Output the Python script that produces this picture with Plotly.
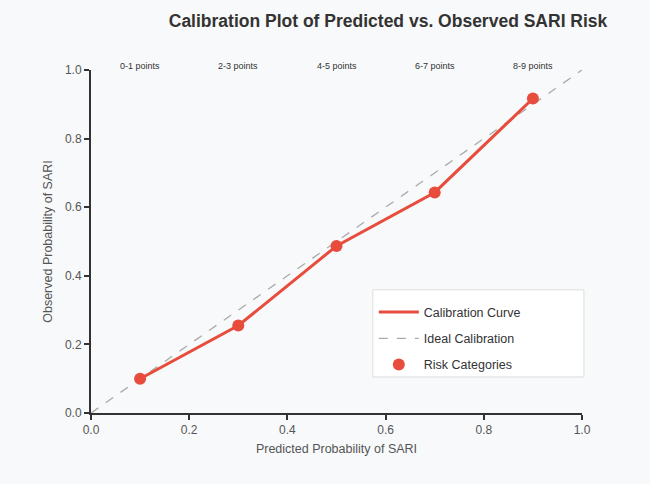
import plotly.graph_objects as go

predicted = [0.1, 0.3, 0.5, 0.7, 0.9]
observed = [0.10, 0.255, 0.487, 0.643, 0.917]
categories = ["0-1 points", "2-3 points", "4-5 points", "6-7 points", "8-9 points"]
ideal_x = [0.0, 1.0]
ideal_y = [0.0, 1.0]

RED = "#e74c3c"
BG = "#f8f9fa"
FONT = "Liberation Sans, Arial, sans-serif"

fig = go.Figure()
fig.add_trace(go.Scatter(x=ideal_x, y=ideal_y, mode="lines", name="Ideal Calibration",
                         legendgroup="b", legendrank=2,
                         line=dict(color="#aaaaaa", width=1.3, dash="dash")))
fig.add_trace(go.Scatter(x=predicted, y=observed, mode="lines", name="Calibration Curve",
                         legendgroup="a", legendrank=1,
                         line=dict(color=RED, width=3)))
fig.add_trace(go.Scatter(x=predicted, y=observed, mode="markers", name="Risk Categories",
                         legendgroup="c", legendrank=3,
                         marker=dict(color=RED, size=12)))

for x, t in zip(predicted, categories):
    fig.add_annotation(x=x, y=1.012, xref="x", yref="paper", text=t, showarrow=False,
                       yanchor="middle", font=dict(size=9, color="#333333", family=FONT))

# legend frame (wider than plotly's auto-sized legend box)
fig.add_shape(type="rect", xref="paper", yref="paper", x0=0.574, x1=1.004, y0=0.105, y1=0.359,
              fillcolor="white", line=dict(color="#dddddd", width=1), layer="below")

axis_common = dict(range=[0, 1], dtick=0.2, tickformat=".1f", showgrid=False, zeroline=False,
                   showline=True, linecolor="#333333", linewidth=2, ticks="outside",
                   ticklen=5, tickwidth=2, tickcolor="#333333",
                   tickfont=dict(size=12, color="#555555", family=FONT))

fig.update_layout(
    width=650, height=484,
    paper_bgcolor=BG, plot_bgcolor=BG,
    margin=dict(l=91, r=68, t=70, b=71),
    font=dict(family=FONT, color="#555555"),
    title=dict(text="<b>Calibration Plot of Predicted vs. Observed SARI Risk</b>",
               x=0.597, xanchor="center", y=0.957, yanchor="middle",
               font=dict(size=17.5, color="#333333", family=FONT)),
    xaxis=dict(title=dict(text="Predicted Probability of SARI", font=dict(size=12.5, color="#555555"),
                          standoff=8), **axis_common),
    yaxis=dict(title=dict(text="Observed Probability of SARI", font=dict(size=12.5, color="#555555"),
                          standoff=10), **axis_common),
    legend=dict(x=0.576, y=0.337, xanchor="left", yanchor="top",
                bgcolor="rgba(0,0,0,0)", borderwidth=0,
                font=dict(size=12.5, color="#333333", family=FONT),
                itemwidth=40, tracegroupgap=7),
    showlegend=True,
)

fig.write_html("out.html")
